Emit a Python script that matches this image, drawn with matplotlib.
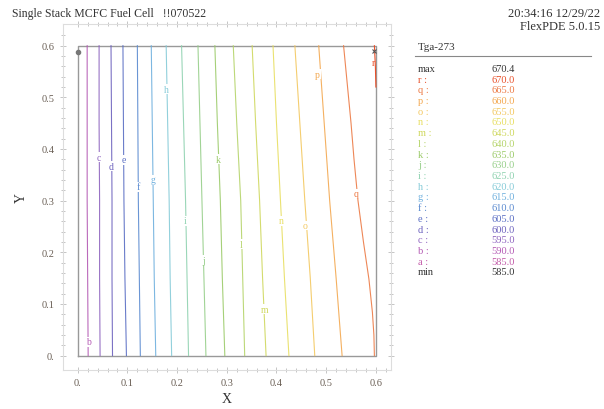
import matplotlib
matplotlib.use("Agg")
import matplotlib.pyplot as plt
import numpy as np

plt.rcParams['font.family'] = ['Liberation Serif', 'DejaVu Serif']

# contour levels (FlexPDE labels a..r) and their values
level_names = ['b', 'c', 'd', 'e', 'f', 'g', 'h', 'i', 'j', 'k', 'l', 'm', 'n', 'o', 'p']
level_colors = ['#b45ab4', '#8e64bf', '#6d62be', '#5a6ec4', '#5a8ad0', '#6fb0de',
                '#86cbd8', '#8fd2b0', '#97cf8a', '#9ccb6a', '#b5d46a', '#cfd85e',
                '#e8df62', '#f3c860', '#f3a850']

# sample heights where each line was read
y_read = [0.0, 0.15, 0.3, 0.45, 0.6]
x_read = [
    [0.021, 0.020, 0.019, 0.019, 0.019],  # b
    [0.045, 0.044, 0.044, 0.043, 0.043],  # c
    [0.070, 0.069, 0.069, 0.068, 0.067],  # d
    [0.098, 0.095, 0.093, 0.092, 0.091],  # e
    [0.126, 0.124, 0.122, 0.121, 0.120],  # f
    [0.157, 0.154, 0.152, 0.150, 0.148],  # g
    [0.189, 0.186, 0.184, 0.181, 0.178],  # h
    [0.223, 0.220, 0.217, 0.213, 0.209],  # i
    [0.258, 0.254, 0.250, 0.246, 0.242],  # j
    [0.296, 0.291, 0.287, 0.281, 0.276],  # k
    [0.336, 0.332, 0.328, 0.320, 0.313],  # l
    [0.379, 0.372, 0.366, 0.358, 0.351],  # m
    [0.425, 0.416, 0.408, 0.400, 0.393],  # n
    [0.477, 0.468, 0.457, 0.447, 0.437],  # o
    [0.532, 0.520, 0.507, 0.496, 0.485],  # p
]
# q bends toward the bottom right corner
q_y = [0.0, 0.04, 0.084, 0.148, 0.22, 0.3, 0.38, 0.45, 0.52, 0.6]
q_x = [0.597, 0.596, 0.593, 0.586, 0.575, 0.564, 0.556, 0.550, 0.543, 0.535]
# short r line near top right corner
r_x = [0.597, 0.599, 0.600]
r_y = [0.6, 0.56, 0.52]

# label positions
lab_x = [0.021, 0.043, 0.067, 0.093, 0.122, 0.152, 0.178, 0.217, 0.253, 0.282,
         0.328, 0.377, 0.410, 0.458, 0.483, 0.561]
lab_y = [0.027, 0.384, 0.367, 0.379, 0.327, 0.340, 0.516, 0.261, 0.185, 0.380,
         0.216, 0.090, 0.261, 0.252, 0.545, 0.313]

legend_names = ['max', 'r :', 'q :', 'p :', 'o :', 'n :', 'm :', 'l :', 'k :', 'j :',
                'i :', 'h :', 'g :', 'f :', 'e :', 'd :', 'c :', 'b :', 'a :', 'min']
legend_values = ['670.4', '670.0', '665.0', '660.0', '655.0', '650.0', '645.0', '640.0',
                 '635.0', '630.0', '625.0', '620.0', '615.0', '610.0', '605.0', '600.0',
                 '595.0', '590.0', '585.0', '585.0']
q_color = '#ec7a45'
r_color = '#e8502a'
legend_colors = ['#333333', r_color, q_color] + level_colors[::-1] + ['#c25aa8', '#333333']

fig = plt.figure(figsize=(6.04, 4.10), dpi=100)
ax = fig.add_axes([0.104, 0.095, 0.543, 0.844])

ax.plot([0, 0.6, 0.6, 0, 0], [0, 0, 0.6, 0.6, 0], color='#999999', lw=1.0, zorder=1)
for xs, c in zip(x_read, level_colors):
    ax.plot(xs, y_read, color=c, lw=0.8, alpha=0.9, zorder=2)
ax.plot(q_x, q_y, color=q_color, lw=0.8, alpha=0.9, zorder=2)
ax.plot(r_x, r_y, color=r_color, lw=0.8, zorder=2)

for nm, lx, ly, c in zip(level_names + ['q'], lab_x, lab_y, level_colors + [q_color]):
    ax.text(lx, ly, nm, color=c, fontsize=7, ha='center', va='center',
            bbox=dict(facecolor='white', edgecolor='none', pad=0.3), zorder=3)
ax.text(0.595, 0.568, 'r', color=r_color, fontsize=7, ha='center', va='center', zorder=3)
ax.plot([0.0], [0.588], marker='o', ms=3, color='#777777', zorder=4)
ax.plot([0.596], [0.590], marker='x', ms=3, color='#555555', mew=0.8, zorder=4)

ax.set_xlim(-0.030, 0.630)
ax.set_ylim(-0.028, 0.642)
ax.set_xticks([0, 0.1, 0.2, 0.3, 0.4, 0.5, 0.6])
ax.set_xticklabels(['0.', '0.1', '0.2', '0.3', '0.4', '0.5', '0.6'])
ax.set_yticks([0, 0.1, 0.2, 0.3, 0.4, 0.5, 0.6])
ax.set_yticklabels(['0.', '0.1', '0.2', '0.3', '0.4', '0.5', '0.6'])
ax.set_xticks(np.arange(0, 0.64, 0.02), minor=True)
ax.set_yticks(np.arange(0, 0.64, 0.02), minor=True)
ax.tick_params(which='both', direction='inout', top=True, right=True, color='#bbbbbb',
               labelsize=7.5, labelcolor='#6a5f55', width=0.6)
ax.tick_params(which='major', length=5)
ax.tick_params(which='minor', length=3)
for s in ax.spines.values():
    s.set_color('#dddddd')
    s.set_linewidth(0.8)
ax.set_xlabel('X', fontsize=10, color='#333333', labelpad=3)
ax.set_ylabel('Y', fontsize=10, color='#333333', labelpad=10)

fig.text(0.02, 0.965, 'Single Stack MCFC Fuel Cell   !!070522', fontsize=8.5,
         color='#333333', ha='left', va='center')
fig.text(0.993, 0.965, '20:34:16 12/29/22', fontsize=9, color='#333333',
         ha='right', va='center')
fig.text(0.993, 0.934, 'FlexPDE 5.0.15', fontsize=9, color='#333333',
         ha='right', va='center')
fig.text(0.692, 0.883, 'Tga-273', fontsize=8, color='#333333', ha='left', va='center')
fig.add_artist(plt.Line2D([0.687, 0.978], [0.862, 0.862], color='#888888', lw=0.8))

for i, (nm, val, c) in enumerate(zip(legend_names, legend_values, legend_colors)):
    yy = 1 - (69.3 + i * 10.72) / 410
    fig.text(0.692, yy, nm, fontsize=7.5, color=c, ha='left', va='center')
    fig.text(0.814, yy, val, fontsize=7.5, color=c, ha='left', va='center')

fig.savefig('out.png', dpi=100)
